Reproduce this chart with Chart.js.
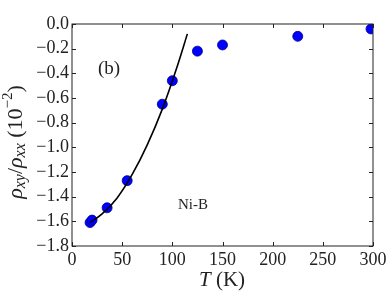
<!DOCTYPE html>
<html lang="en">
  <head>
    <meta charset="utf-8">
    <title>Ni-B</title>
    <script src="https://cdn.jsdelivr.net/npm/chart.js@4.4.1/dist/chart.umd.min.js"></script>
    <style>
      html, body { margin: 0; padding: 0; background: #fff; }
      #box { width: 392px; height: 294px; }
    </style>
  </head>
  <body>
  <div id="box"><canvas id="myChart"></canvas></div>
  <script>
    // measured points (T in K, rho_xy/rho_xx in 1e-2)
    var temps = [18, 20, 35, 55, 90, 100, 125, 150, 225, 298];
    var ratios = [-1.61, -1.59, -1.49, -1.27, -0.65, -0.46, -0.22, -0.17, -0.10, -0.04];
    // fit curve
    var fitTemps = [18, 30, 45, 60, 75, 90, 105, 115];
    var fitRatios = [-1.61, -1.54, -1.41, -1.22, -0.98, -0.69, -0.34, -0.08];
    var xTicks = [0, 50, 100, 150, 200, 250, 300];
    var yTicks = [0, -0.2, -0.4, -0.6, -0.8, -1.0, -1.2, -1.4, -1.6, -1.8];

    var serif = "'Liberation Serif', 'DejaVu Serif', serif";
    var ink = '#222';

    function pts(xs, ys) {
      var out = [];
      for (var i = 0; i < xs.length; i++) out.push({x: xs[i], y: ys[i]});
      return out;
    }

    function fmt(v) {
      if (Math.abs(v) < 1e-9) return '0.0';
      return (v < 0 ? '\u2212' : '') + Math.abs(v).toFixed(1);
    }

    // frame, inward ticks and annotations
    var decor = {
      id: 'decor',
      afterDatasetsDraw: function(chart) {
        var c = chart.ctx, a = chart.chartArea;
        var xs = chart.scales.x, ys = chart.scales.y;
        c.save();
        c.strokeStyle = '#222';
        c.lineWidth = 1;
        c.strokeRect(a.left, a.top, a.right - a.left, a.bottom - a.top);
        c.beginPath();
        xTicks.forEach(function(t) {
          var px = Math.round(xs.getPixelForValue(t)) + 0.5;
          c.moveTo(px, a.bottom); c.lineTo(px, a.bottom - 4);
          c.moveTo(px, a.top); c.lineTo(px, a.top + 4);
        });
        yTicks.forEach(function(t) {
          var py = Math.round(ys.getPixelForValue(t)) + 0.5;
          c.moveTo(a.left, py); c.lineTo(a.left + 4, py);
          c.moveTo(a.right, py); c.lineTo(a.right - 4, py);
        });
        c.stroke();

        c.fillStyle = ink;
        c.textBaseline = 'middle';
        c.textAlign = 'center';
        c.font = '19px ' + serif;
        c.fillText('(b)', 109, 69);
        c.font = '15px ' + serif;
        c.fillText('Ni-B', 193, 205);

        // x title: T (K)
        c.font = 'italic 21px ' + serif;
        var w1 = c.measureText('T').width;
        c.font = '21px ' + serif;
        var w2 = c.measureText(' (K)').width;
        var sx = 222 - (w1 + w2) / 2;
        c.textAlign = 'left';
        c.font = 'italic 21px ' + serif;
        c.fillText('T', sx, 280);
        c.font = '21px ' + serif;
        c.fillText(' (K)', sx + w1, 280);

        // y title: rho_xy / rho_xx (10^-2)
        var parts = [
          {t: '\u03C1', f: 'italic 22px ', dy: 0},
          {t: 'xy', f: 'italic 16px ', dy: 5},
          {t: '/', f: '22px ', dy: 0},
          {t: '\u03C1', f: 'italic 22px ', dy: 0},
          {t: 'xx', f: 'italic 16px ', dy: 5},
          {t: ' (10', f: '22px ', dy: 0},
          {t: '\u22122', f: '15px ', dy: -8},
          {t: ')', f: '22px ', dy: 0}
        ];
        var total = 0;
        parts.forEach(function(p) { c.font = p.f + serif; p.w = c.measureText(p.t).width; total += p.w; });
        c.translate(16, 142);
        c.rotate(-Math.PI / 2);
        var cx = -total / 2;
        parts.forEach(function(p) {
          c.font = p.f + serif;
          c.fillText(p.t, cx, p.dy);
          cx += p.w;
        });
        c.restore();
      }
    };

    new Chart(document.getElementById('myChart').getContext('2d'), {
      type: 'scatter',
      data: {
        datasets: [{
          data: pts(fitTemps, fitRatios),
          showLine: true,
          borderColor: '#000',
          borderWidth: 1.6,
          pointRadius: 0,
          cubicInterpolationMode: 'monotone',
          order: 0
        }, {
          data: pts(temps, ratios),
          backgroundColor: '#0000ff',
          borderColor: '#00008a',
          borderWidth: 0.8,
          pointRadius: 5,
          order: 1
        }]
      },
      options: {
        responsive: true,
        maintainAspectRatio: false,
        animation: false,
        events: [],
        layout: { padding: { left: 0, top: 24, right: 19, bottom: 0 } },
        plugins: { legend: { display: false }, tooltip: { enabled: false } },
        scales: {
          x: {
            min: 0, max: 300,
            afterFit: function(s) { s.height = 48; },
            afterBuildTicks: function(s) { s.ticks = xTicks.map(function(v) { return {value: v}; }); },
            grid: { display: false, drawTicks: false },
            border: { display: false },
            ticks: { padding: 3, color: ink, font: { family: serif, size: 18 }, maxRotation: 0,
              callback: function(v) { return String(v); } }
          },
          y: {
            min: -1.8, max: 0,
            afterFit: function(s) { s.width = 72; },
            afterBuildTicks: function(s) { s.ticks = yTicks.map(function(v) { return {value: v}; }); },
            grid: { display: false, drawTicks: false },
            border: { display: false },
            ticks: { padding: 3, color: ink, font: { family: serif, size: 18 },
              callback: function(v) { return fmt(v); } }
          }
        }
      },
      plugins: [decor]
    });
  </script>
  </body>
</html>
